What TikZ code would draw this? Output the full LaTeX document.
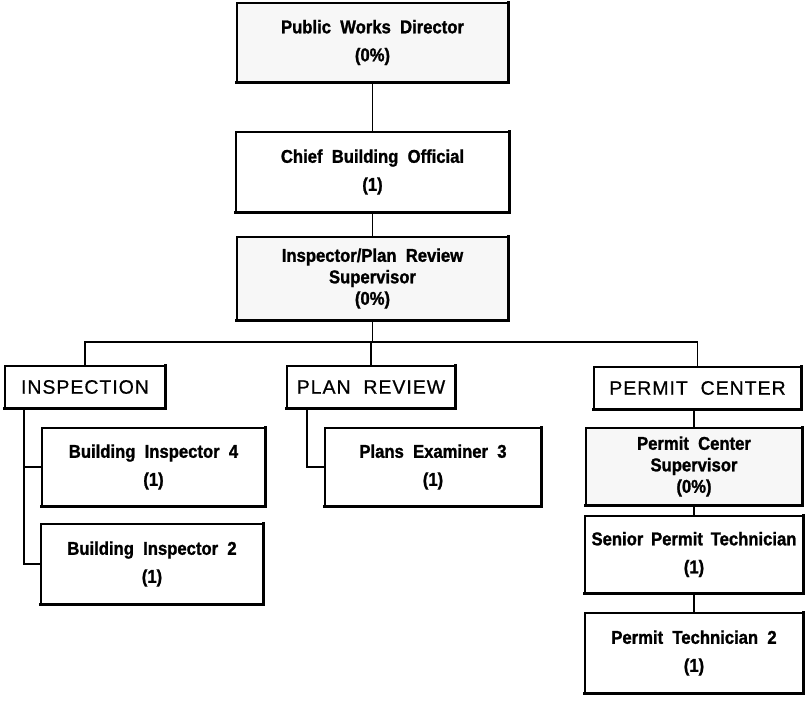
\documentclass[tikz,border=0pt]{standalone}
\usepackage{fontspec}
\setmainfont{Liberation Sans}
\newfontfamily\condsans[FakeStretch=0.9, BoldFeatures={FakeBold=1.3}]{Liberation Sans}
\newfontfamily\spacedsans[LetterSpace=5, FakeBold=0.6]{Liberation Sans}
\begin{document}
\begin{tikzpicture}[x=1pt,y=-1pt,
  box/.style={draw, line width=1.1pt, rectangle, align=center, inner sep=0pt},
  shade/.style={fill=black!3},
  posn/.style={font=\condsans\bfseries\fontsize{18.5}{28}\selectfont},
  posn3/.style={font=\condsans\bfseries\fontsize{18.5}{21.5}\selectfont},
  unit/.style={font=\spacedsans\fontsize{19.5}{22}\selectfont},
  link/.style={line width=1.1pt},
  edge/.style={line width=2.6pt, line cap=rect}]
\useasboundingbox (0,0) rectangle (807,704);

% management chain
\node[box,shade,posn,minimum width=271pt,minimum height=79pt] (pwd) at (372.5,42.5)
  {Public\ \ Works\ \ Director\\(0\%)};
\node[box,posn,minimum width=273pt,minimum height=80pt] (cbo) at (372.5,172)
  {Chief\ \ Building\ \ Official\\(1)};
\node[box,shade,posn3,minimum width=271pt,minimum height=83pt] (ipr) at (372.5,278.5)
  {Inspector/Plan\ \ Review\\Supervisor\\(0\%)};

% units
\node[box,unit,minimum width=160pt,minimum height=42pt] (insp) at (85,387) {INSPECTION};
\node[box,unit,minimum width=168pt,minimum height=42pt] (plan) at (371,387) {PLAN\ \ REVIEW};
\node[box,unit,minimum width=207pt,minimum height=42pt] (perm) at (697.5,388) {PERMIT\ \ CENTER};

% inspection staff
\node[box,posn,minimum width=223pt,minimum height=78pt] (bi4) at (153.5,467)
  {Building\ \ Inspector\ \ 4\\(1)};
\node[box,posn,minimum width=222pt,minimum height=80pt] (bi2) at (152,564)
  {Building\ \ Inspector\ \ 2\\(1)};

% plan review staff
\node[box,posn,minimum width=216pt,minimum height=78pt] (pe3) at (433,467)
  {Plans\ \ Examiner\ \ 3\\(1)};

% permit center staff
\node[box,shade,posn3,minimum width=216pt,minimum height=77pt] (pcs) at (694,466.5)
  {Permit\ \ Center\\Supervisor\\(0\%)};
\node[box,posn,minimum width=218pt,minimum height=77pt] (spt) at (694,554.5)
  {Senior\hspace{0.42em}Permit\hspace{0.42em}Technician\\(1)};
\node[box,posn,minimum width=218pt,minimum height=80pt] (pt2) at (694,653)
  {Permit\ \ Technician\ \ 2\\(1)};

% heavy bottom and right edges
\foreach \n in {pwd,cbo,ipr,insp,plan,perm,bi4,bi2,pe3,pcs,spt,pt2}
  \draw[edge] (\n.south west) -| (\n.north east);

% connectors
\coordinate (bus) at (0,342);
\draw[link] (pwd.south) -- (cbo.north);
\draw[link] (cbo.south) -- (ipr.north);
\draw[link] (ipr.south) -- (ipr.south |- bus);
\draw[link] (insp.north) |- (perm.north |- bus) -- (perm.north);
\draw[link] (plan.north) -- (plan.north |- bus);

\draw[link] ([xshift=-61pt]insp.south) |- (bi2.west);
\draw[link] ([xshift=-61pt]insp.south |- bi4.west) -- (bi4.west);
\draw[link] ([xshift=-64pt]plan.south) |- (pe3.west);

\draw[link] (pcs.north) -- (pcs.north |- perm.south);
\draw[link] (pcs.south) -- (spt.north);
\draw[link] (spt.south) -- (pt2.north);
\end{tikzpicture}
\end{document}
